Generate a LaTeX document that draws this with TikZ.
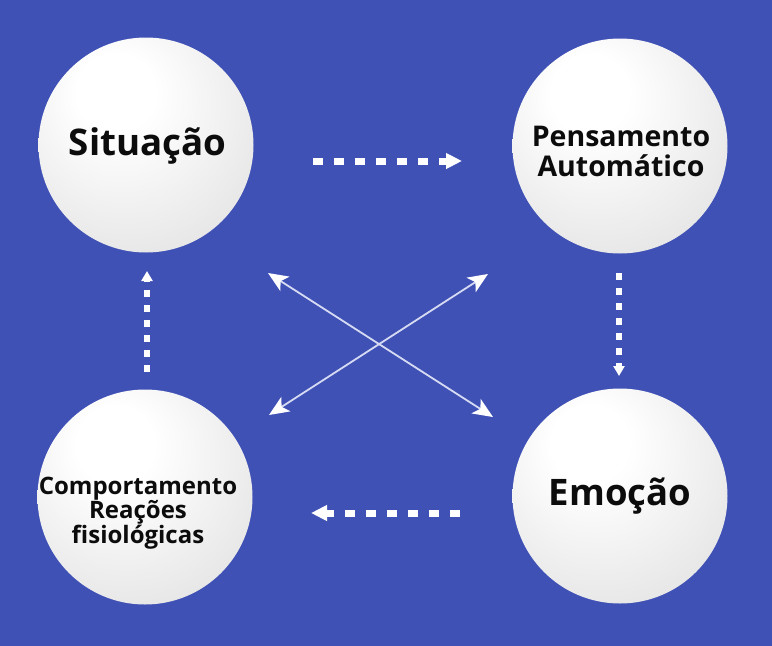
\documentclass[tikz,border=0pt]{standalone}
\usepackage{fontspec}
\setmainfont{Open Sans}
\usetikzlibrary{arrows.meta}
\definecolor{bg}{RGB}{63,81,181}
\definecolor{txt}{RGB}{12,12,12}
\definecolor{xline}{RGB}{214,218,242}
\pgfdeclareradialshading{sphere}{\pgfpoint{-8bp}{14bp}}{%
  color(0bp)=(white); color(9bp)=(white); color(35bp)=(black!10);
  color(55bp)=(black!17); color(70bp)=(black!18)}
\tikzset{
  ball/.style={circle, minimum size=215pt, inner sep=0pt, shading=sphere},
  lbl/.style={text=txt, inner sep=0pt, font=\bfseries},
  hdash/.style={draw=white, line width=7pt, dash pattern=on 10pt off 11pt,
    -{Triangle[length=16pt,width=15pt]}},
  vdash/.style={draw=white, line width=5.5pt, dash pattern=on 7pt off 8pt,
    -{Triangle[length=10pt,width=11pt]}},
  xarrow/.style={draw=xline, line width=1.8pt,
    {Stealth[length=20pt,width=17pt,inset=5pt,fill=white,color=white]}-{Stealth[length=20pt,width=17pt,inset=5pt,fill=white,color=white]}}
}
\begin{document}
\begin{tikzpicture}[x=1pt,y=-1pt]
\fill[bg] (0,0) rectangle (772,646);
\useasboundingbox (0,0) rectangle (772,646);

\node[ball] (sit) at (146,145) {};
\node[ball] (pen) at (620,146) {};
\node[ball] (com) at (145,497) {};
\node[ball] (emo) at (620,496) {};

\node[lbl, anchor=base, font=\bfseries\fontsize{36.7}{40}\selectfont] (sitT) at (147.5,155) {Situação};
\node[lbl, align=center, font=\bfseries\fontsize{28.5}{30}\selectfont] (penT) at (621,151) {Pensamento\\Automático};
\node[lbl, anchor=base, font=\bfseries\fontsize{36.5}{40}\selectfont] (emoT) at (620,505) {Emoção};
\node[lbl, align=center, font=\bfseries\fontsize{24}{24}\selectfont] (comT) at (138,513) {Comportamento\\Reações\\fisiológicas};

\coordinate (a1) at (313,161); \coordinate (a2) at (462,161);
\coordinate (b1) at (619,273); \coordinate (b2) at (619,376);
\coordinate (c1) at (460,513); \coordinate (c2) at (311,513);
\coordinate (d1) at (147,372); \coordinate (d2) at (147,271);
\coordinate (x1) at (268,273); \coordinate (x2) at (493,417);
\coordinate (y1) at (488,274); \coordinate (y2) at (269,415);

\draw[hdash] (a1) -- (a2);
\draw[vdash] (b1) -- (b2);
\draw[hdash] (c1) -- (c2);
\draw[vdash] (d1) -- (d2);
\draw[xarrow] (x1) -- (x2);
\draw[xarrow] (y1) -- (y2);
\end{tikzpicture}
\end{document}
